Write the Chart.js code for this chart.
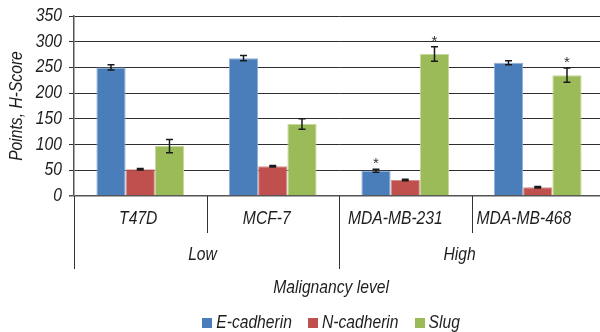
<!DOCTYPE html>
<html>
<head>
<meta charset="utf-8">
<script src="https://cdn.jsdelivr.net/npm/chart.js@4/dist/chart.umd.min.js"></script>
<style>
  html, body { margin: 0; padding: 0; background: #fff; overflow: hidden; }
  #wrap { width: 606px; height: 332px; }
</style>
</head>
<body>
<div id="wrap"><canvas id="c" width="606" height="332"></canvas></div>
<script>
// Cell lines and their malignancy groups
const cellLines = ['T47D', 'MCF-7', 'MDA-MB-231', 'MDA-MB-468'];
const malignancyGroups = ['Low', 'High'];
const groupSizes = [2, 2];

// H-Score means and error half-widths
const eCadherin = [250, 268, 49, 259];
const eCadherinErr = [5, 5, 3, 4];
const nCadherin = [52, 58, 31, 17];
const nCadherinErr = [1.5, 1.5, 1.5, 1.5];
const slug = [97, 140, 276, 235];
const slugErr = [13, 10, 14, 14];

// significance markers (*) per series
const eCadherinSig = [false, false, true, false];
const nCadherinSig = [false, false, false, false];
const slugSig = [false, false, true, true];

const yTicks = [0, 50, 100, 150, 200, 250, 300, 350];

const FONT = 'italic 18px "Liberation Sans", Arial, sans-serif';
const CONDENSE = 0.87;   // condensed look for all labels
const INK = '#1e1e1e';
const LABEL_SPREAD = 0.97;

// draw horizontally condensed text
function condensedText(ctx, text, x, y, align, rotate) {
  ctx.save();
  ctx.translate(x, y);
  if (rotate) ctx.rotate(rotate);
  ctx.scale(CONDENSE, 1);
  ctx.font = FONT;
  ctx.fillStyle = INK;
  ctx.textAlign = align || 'center';
  ctx.textBaseline = 'middle';
  ctx.fillText(text, 0, 0);
  ctx.restore();
}
function condensedWidth(ctx, text) {
  ctx.save();
  ctx.font = FONT;
  const w = ctx.measureText(text).width * CONDENSE;
  ctx.restore();
  return w;
}

const errorBars = {
  id: 'errorBars',
  afterDatasetsDraw(chart) {
    const ctx = chart.ctx;
    const y = chart.scales.y;
    chart.data.datasets.forEach((ds, di) => {
      const meta = chart.getDatasetMeta(di);
      meta.data.forEach((bar, i) => {
        const v = ds.data[i], e = ds.errors[i];
        const top = y.getPixelForValue(v + e);
        const bot = y.getPixelForValue(v - e);
        ctx.save();
        ctx.strokeStyle = '#1a1a1a';
        ctx.lineWidth = 1.5;
        ctx.beginPath();
        ctx.moveTo(bar.x, top); ctx.lineTo(bar.x, bot);
        ctx.moveTo(bar.x - 3.5, top); ctx.lineTo(bar.x + 3.5, top);
        ctx.moveTo(bar.x - 3.5, bot); ctx.lineTo(bar.x + 3.5, bot);
        ctx.stroke();
        if (ds.sig[i]) {
          ctx.fillStyle = '#333';
          ctx.font = '15px "Liberation Sans", Arial, sans-serif';
          ctx.textAlign = 'center';
          ctx.textBaseline = 'alphabetic';
          ctx.fillText('*', bar.x, top - 1);
        }
        ctx.restore();
      });
    });
  }
};

const axisText = {
  id: 'axisText',
  afterDraw(chart) {
    const ctx = chart.ctx;
    const x = chart.scales.x;
    const y = chart.scales.y;
    const area = chart.chartArea;
    const base = area.bottom;
    const spread = px => area.left + (px - area.left) * LABEL_SPREAD;
    const boundary = i => (x.getPixelForValue(i) + x.getPixelForValue(i + 1)) / 2;

    // value axis labels and title
    y.ticks.forEach(t => condensedText(ctx, String(t.value), area.left - 12, y.getPixelForValue(t.value), 'right'));
    condensedText(ctx, 'Points, H-Score', 17, (area.top + area.bottom) / 2, 'center', -Math.PI / 2);

    ctx.save();
    ctx.strokeStyle = '#333';
    ctx.lineWidth = 1;
    // outer left edge, full depth
    ctx.beginPath();
    ctx.moveTo(area.left + 0.5, base); ctx.lineTo(area.left + 0.5, base + 73);
    ctx.stroke();
    // dividers between cell lines / groups
    let idx = 0;
    groupSizes.forEach((n, g) => {
      for (let k = 0; k < n - 1; k++) {
        const bx = Math.round(boundary(idx + k)) + 0.5;
        ctx.beginPath(); ctx.moveTo(bx, base); ctx.lineTo(bx, base + 37); ctx.stroke();
      }
      idx += n;
      if (g < groupSizes.length - 1) {
        const bx = Math.round(boundary(idx - 1)) + 0.5;
        ctx.beginPath(); ctx.moveTo(bx, base); ctx.lineTo(bx, base + 73); ctx.stroke();
      }
    });
    ctx.restore();

    cellLines.forEach((name, i) => {
      condensedText(ctx, name, spread(x.getPixelForValue(i)), base + 23);
    });
    idx = 0;
    malignancyGroups.forEach((name, g) => {
      const first = idx, last = idx + groupSizes[g] - 1;
      const l = first === 0 ? area.left : boundary(first - 1);
      const r = last === cellLines.length - 1 ? area.right : boundary(last);
      condensedText(ctx, name, spread((l + r) / 2), base + 59);
      idx += groupSizes[g];
    });
    const center = spread((area.left + area.right) / 2);
    condensedText(ctx, 'Malignancy level', center, base + 92);

    // legend
    const items = chart.data.datasets.map(ds => ({ label: ds.label, color: ds.backgroundColor, w: condensedWidth(ctx, ds.label) }));
    const box = 10, gapBox = 4, gapItem = 16;
    const total = items.reduce((s, it) => s + box + gapBox + it.w, 0) + gapItem * (items.length - 1);
    let lx = center - total / 2;
    const ly = base + 127;
    items.forEach(it => {
      ctx.fillStyle = it.color;
      ctx.fillRect(Math.round(lx), Math.round(ly - box / 2), box, box);
      condensedText(ctx, it.label, lx + box + gapBox, ly, 'left');
      lx += box + gapBox + it.w + gapItem;
    });
  }
};

new Chart(document.getElementById('c'), {
  type: 'bar',
  data: {
    labels: cellLines,
    datasets: [
      { label: 'E-cadherin', data: eCadherin, errors: eCadherinErr, sig: eCadherinSig,
        backgroundColor: '#4a7ebb', borderColor: '#8fb0d8', borderWidth: { left: 1, right: 1, top: 1 } },
      { label: 'N-cadherin', data: nCadherin, errors: nCadherinErr, sig: nCadherinSig,
        backgroundColor: '#c0504d', borderColor: '#d98e8c', borderWidth: { left: 1, right: 1, top: 1 } },
      { label: 'Slug', data: slug, errors: slugErr, sig: slugSig,
        backgroundColor: '#9bbb59', borderColor: '#c3d89a', borderWidth: { left: 1, right: 1, top: 1 } }
    ]
  },
  options: {
    responsive: false,
    animation: false,
    devicePixelRatio: 1,
    layout: { padding: { top: 16, bottom: 136, left: 0, right: 2 } },
    datasets: { bar: { categoryPercentage: 0.662, barPercentage: 1.0 } },
    plugins: { legend: { display: false }, tooltip: { enabled: false } },
    scales: {
      x: { display: false },
      y: {
        min: 0, max: 350,
        afterFit(scale) { scale.width = 74; },
        afterBuildTicks(scale) { scale.ticks = yTicks.map(v => ({ value: v })); },
        border: { display: true, color: '#555', width: 1.5 },
        grid: {
          color: ctx => (ctx.tick && ctx.tick.value === 0) ? '#555' : '#2e2e2e',
          lineWidth: ctx => (ctx.tick && ctx.tick.value === 0) ? 1.5 : 1,
          tickLength: 5, drawTicks: true
        },
        ticks: { display: false }
      }
    }
  },
  plugins: [errorBars, axisText]
});
</script>
</body>
</html>
